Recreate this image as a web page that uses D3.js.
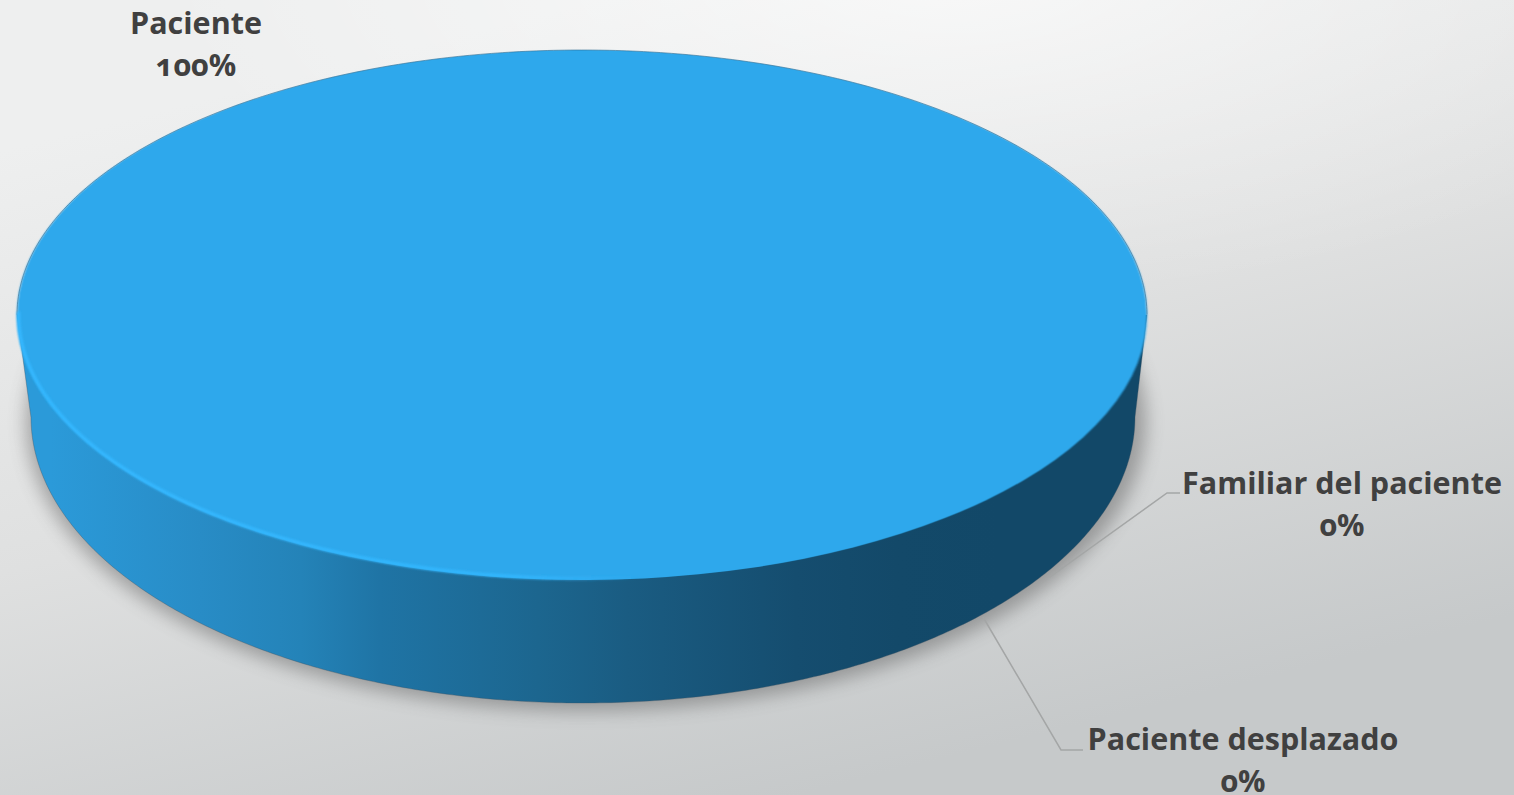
<!DOCTYPE html>
<html>
<head>
  <meta charset="utf-8">
  <title>Paciente</title>
  <script src="https://cdnjs.cloudflare.com/ajax/libs/d3/7.8.5/d3.min.js"></script>
  <style>
    html, body { margin: 0; padding: 0; overflow: hidden; background: #ddd; }
    svg { display: block; }
    .lbl { font-family: "Open Sans", sans-serif; font-weight: 700; font-size: 30.5px; fill: #404040;
           font-feature-settings: "onum"; text-anchor: middle; }
  </style>
</head>
<body>
<svg width="1514" height="795"></svg>
<script>
// values
let categories = ["Paciente", "Familiar del paciente", "Paciente desplazado"];
let values = [100, 0, 0];
let valueLabels = ["100%", "0%", "0%"];

let svg = d3.select("svg");
let defs = svg.append("defs");

// background: top to bottom fade plus a light patch at the top
let bg = defs.append("linearGradient").attr("id", "bg")
  .attr("gradientUnits", "userSpaceOnUse")
  .attr("x1", 600).attr("y1", 0).attr("x2", 800).attr("y2", 795);
[[0, "#eeefef"], [0.5, "#dfe0e0"], [1, "#c6c9ca"]]
  .forEach(s => bg.append("stop").attr("offset", s[0]).attr("stop-color", s[1]));
svg.append("rect").attr("width", 1514).attr("height", 795).attr("fill", "url(#bg)");

let glow = defs.append("radialGradient").attr("id", "glow")
  .attr("gradientUnits", "userSpaceOnUse")
  .attr("cx", 0).attr("cy", 0).attr("r", 1)
  .attr("gradientTransform", "translate(950,-30) scale(800,330)");
glow.append("stop").attr("offset", "0").attr("stop-color", "#fff").attr("stop-opacity", 0.65);
glow.append("stop").attr("offset", "1").attr("stop-color", "#fff").attr("stop-opacity", 0);
svg.append("rect").attr("width", 1514).attr("height", 795).attr("fill", "url(#glow)");

// side wall colours
let sideGrad = defs.append("linearGradient").attr("id", "side")
  .attr("gradientUnits", "userSpaceOnUse").attr("x1", 20).attr("x2", 1145).attr("y1", 0).attr("y2", 0);
[[0.027, "#2b9ad9"], [0.16, "#288cc6"], [0.25, "#2483b8"], [0.32, "#1f74a5"], [0.46, "#1c668f"],
 [0.54, "#1a5c82"], [0.69, "#154d6f"], [0.78, "#134969"], [0.87, "#124868"]]
  .forEach(s => sideGrad.append("stop").attr("offset", s[0]).attr("stop-color", s[1]));

let hiGrad = defs.append("linearGradient").attr("id", "hi")
  .attr("gradientUnits", "userSpaceOnUse").attr("x1", 20).attr("x2", 640).attr("y1", 0).attr("y2", 0);
hiGrad.append("stop").attr("offset", "0").attr("stop-color", "#35b8ff");
hiGrad.append("stop").attr("offset", "0.8").attr("stop-color", "#33b6fd");
hiGrad.append("stop").attr("offset", "1").attr("stop-color", "#33b6fd").attr("stop-opacity", 0);

defs.append("filter").attr("id", "blur").attr("x", "-10%").attr("y", "-10%").attr("width", "120%").attr("height", "120%")
  .append("feGaussianBlur").attr("stdDeviation", 9);
defs.append("filter").attr("id", "soft").append("feGaussianBlur").attr("stdDeviation", 0.9);

// pie geometry
let cx = 582, cy = 315, rx = 565, ry = 265;
let bx = 583, by = 417, brx = 552, bry = 286;

let pie = d3.pie().sort(null).startAngle(2.05).endAngle(2.05 + 2 * Math.PI);
let slices = pie(values);

let ell = (x0, y0, a, b) => d3.line()
  .x(t => x0 + a * Math.cos(t))
  .y(t => y0 + b * Math.sin(t));

// shadow below the disc
svg.append("path")
  .attr("d", ell(586, 422, 560, 289)(d3.range(0, 2 * Math.PI + 0.01, 0.02)))
  .attr("fill", "#4a4a4a").attr("opacity", 0.42).attr("filter", "url(#blur)");

// leader lines, the first runs behind the wall
let leaders = [
  null,
  [[1180, 493], [1167, 493], [1050, 577]],
  [[1083, 750], [1061, 750], [983, 617]]
];
svg.append("g").selectAll("path").data(leaders.filter(d => d)).enter().append("path")
  .attr("d", d3.line()).attr("fill", "none").attr("stroke", "#a4a6a6").attr("stroke-width", 1.5);

// side wall: lower half of the bottom ellipse joined to the top rim
let lower = d3.range(0, Math.PI + 0.005, 0.01);
let wall = ell(bx, by, brx, bry)(lower) + "L" + (cx - rx) + "," + cy + "L" + (cx + rx) + "," + cy + "Z";
svg.append("path").attr("d", wall).attr("fill", "url(#side)")
  .attr("stroke", "#3a5060").attr("stroke-width", 1).attr("stroke-opacity", 0.35);

// top face, one path per slice
let arc = d3.arc().innerRadius(0).outerRadius(rx);
svg.append("g").attr("transform", `translate(${cx},${cy}) scale(1,${ry / rx})`)
  .attr("filter", "url(#soft)")
  .selectAll("path").data(slices).enter().append("path")
  .attr("d", arc)
  .attr("fill", "#2da8ec");

// thin dark edge along the back of the top face
svg.append("path")
  .attr("d", ell(cx, cy, rx, ry)(d3.range(Math.PI, 2 * Math.PI + 0.005, 0.01)))
  .attr("fill", "none").attr("stroke", "#2f6a90").attr("stroke-width", 1).attr("stroke-opacity", 0.6);

// bright rim on the front left of the top face
svg.append("path")
  .attr("d", ell(cx, cy, rx - 1.5, ry - 1.5)(d3.range(Math.PI * 0.45, Math.PI + 0.02, 0.01)))
  .attr("fill", "none").attr("stroke", "url(#hi)").attr("stroke-width", 3.4)
  .attr("filter", "url(#soft)");

// labels
let labelPos = [[196, 34], [1342, 494], [1243, 750]];
let lab = svg.append("g").selectAll("text").data(categories).enter().append("text")
  .attr("class", "lbl")
  .attr("x", (d, i) => labelPos[i][0])
  .attr("y", (d, i) => labelPos[i][1]);
lab.append("tspan").text(d => d);
lab.append("tspan")
  .attr("x", (d, i) => labelPos[i][0])
  .attr("dy", 42)
  .text((d, i) => valueLabels[i]);
</script>
</body>
</html>
